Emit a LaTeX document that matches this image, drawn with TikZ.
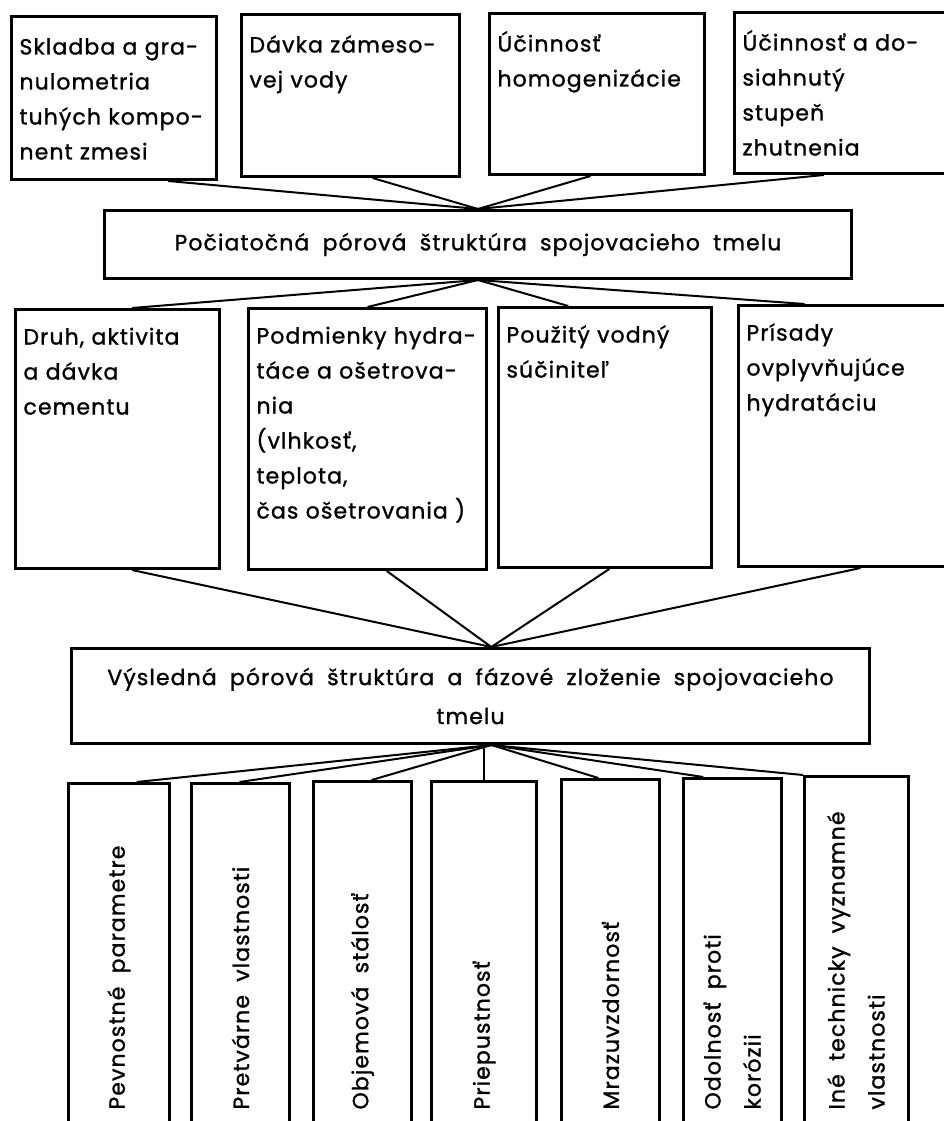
\documentclass[tikz,border=0pt]{standalone}
\usepackage{fontspec}
\setmainfont{Poppins}[LetterSpace=5,WordSpace=1.9,FakeBold=1.2]
\usepackage{graphicx}
\usepackage{tikz}
\usetikzlibrary{calc}
\tikzstyle{box}=[draw,line width=3pt,anchor=north west,inner xsep=8pt,inner ysep=0pt,align=left,font=\fontsize{22}{35}\selectfont]
\tikzstyle{wide box}=[draw,line width=3pt,anchor=north west,inner sep=0pt,align=center,font=\fontsize{22}{39}\selectfont]
\tikzstyle{tall box}=[draw,line width=3pt,anchor=north west,inner sep=0pt,font=\fontsize{22}{40}\selectfont]
\tikzstyle{edge}=[draw,line width=2pt,-]

\begin{document}
\begin{tikzpicture}[x=1pt,y=-1pt]
        \useasboundingbox[fill=white] (0,0) rectangle (944,1121);
        % vstupy
        \node[box,text width=189pt,text height=38pt,text depth=125pt] (sklad) at (10,15) {Skladba a gra-\\nulometria\\tuhých kompo-\\nent zmesi};
        \node[box,text width=202pt,text height=38pt,text depth=124pt] (davka) at (240,13) {Dávka zámeso-\\vej vody};
        \node[box,text width=199pt,text height=38pt,text depth=123pt] (homog) at (488,12) {Účinnosť\\homogenizácie};
        \node[box,text width=214pt,text height=38pt,text depth=123pt] (zhut) at (733,11) {Účinnosť a do-\\siahnutý\\stupeň\\zhutnenia};
        \node[wide box,minimum width=747pt,minimum height=68pt] (pocat) at (103,209) {Počiatočná pórová štruktúra spojovacieho tmelu};
        % hydratacia
        \node[box,text width=188pt,text height=35pt,text depth=224pt] (druh) at (14,308) {Druh, aktivita\\a dávka\\cementu};
        \node[box,text width=222pt,text height=35pt,text depth=226pt] (podm) at (247,307) {Podmienky hydra-\\táce a ošetrova-\\nia\\(vlhkosť,\\teplota,\\čas ošetrovania )};
        \node[box,text width=197pt,text height=35pt,text depth=225pt] (vodny) at (497,306) {Použitý vodný\\súčiniteľ};
        \node[box,text width=214pt,text height=35pt,text depth=226pt] (prisady) at (737,304) {Prísady\\ovplyvňujúce\\hydratáciu};
        \node[wide box,minimum width=798pt,minimum height=95pt] (vysl) at (70,647) {Výsledná pórová štruktúra a fázové zloženie spojovacieho\\tmelu};
        \coordinate (vin) at ($(vysl.north west)!0.526!(vysl.north east)$);
        \coordinate (vout) at ($(vysl.south west)!0.526!(vysl.south east)$);
        % vlastnosti
        \node[tall box,minimum width=101pt,text height=326pt,text depth=45pt] (pevn) at (67,782) {\rotatebox{90}{Pevnostné parametre}};
        \node[tall box,minimum width=98pt,text height=326pt,text depth=45pt] (pretv) at (190,782) {\rotatebox{90}{Pretvárne vlastnosti}};
        \node[tall box,minimum width=98pt,text height=328pt,text depth=45pt] (objem) at (312,780) {\rotatebox{90}{Objemová stálosť}};
        \node[tall box,minimum width=105pt,text height=328pt,text depth=45pt] (priep) at (430,780) {\rotatebox{90}{Priepustnosť}};
        \node[tall box,minimum width=98pt,text height=330pt,text depth=45pt] (mraz) at (560,778) {\rotatebox{90}{Mrazuvzdornosť}};
        \node[tall box,minimum width=98pt,text height=331pt,text depth=45pt] (odol) at (682,777) {\rotatebox{90}{\begin{tabular}{@{}l@{}}Odolnosť proti\\korózii\end{tabular}}};
        \node[tall box,minimum width=104pt,text height=333pt,text depth=45pt] (ine) at (803,775) {\rotatebox{90}{\begin{tabular}{@{}l@{}}Iné technicky vyznamné\\vlastnosti\end{tabular}}};
        \draw[edge] ($(sklad.south west)!0.76!(sklad.south east)$) to (pocat.north);
        \draw[edge] ($(davka.south west)!0.6!(davka.south east)$) to (pocat.north);
        \draw[edge] ($(homog.south west)!0.47!(homog.south east)$) to (pocat.north);
        \draw[edge] ($(zhut.south west)!0.39!(zhut.south east)$) to (pocat.north);
        \draw[edge] (pocat.south) to ($(druh.north west)!0.57!(druh.north east)$);
        \draw[edge] (pocat.south) to ($(podm.north west)!0.5!(podm.north east)$);
        \draw[edge] (pocat.south) to ($(vodny.north west)!0.33!(vodny.north east)$);
        \draw[edge] (pocat.south) to ($(prisady.north west)!0.29!(prisady.north east)$);
        \draw[edge] ($(druh.south west)!0.57!(druh.south east)$) to (vin);
        \draw[edge] ($(podm.south west)!0.58!(podm.south east)$) to (vin);
        \draw[edge] ($(vodny.south west)!0.52!(vodny.south east)$) to (vin);
        \draw[edge] ($(prisady.south west)!0.53!(prisady.south east)$) to (vin);
        \draw[edge] (vout) to ($(pevn.north west)!0.67!(pevn.north east)$);
        \draw[edge] (vout) to ($(pretv.north west)!0.49!(pretv.north east)$);
        \draw[edge] (vout) to ($(objem.north west)!0.59!(objem.north east)$);
        \draw[edge] (priep.north |- vysl.south) to (priep.north);
        \draw[edge] (vout) to ($(mraz.north west)!0.38!(mraz.north east)$);
        \draw[edge] (vout) to ($(odol.north west)!0.21!(odol.north east)$);
        \draw[edge] (vout) to (ine.north west);
      \end{tikzpicture}
\end{document}
